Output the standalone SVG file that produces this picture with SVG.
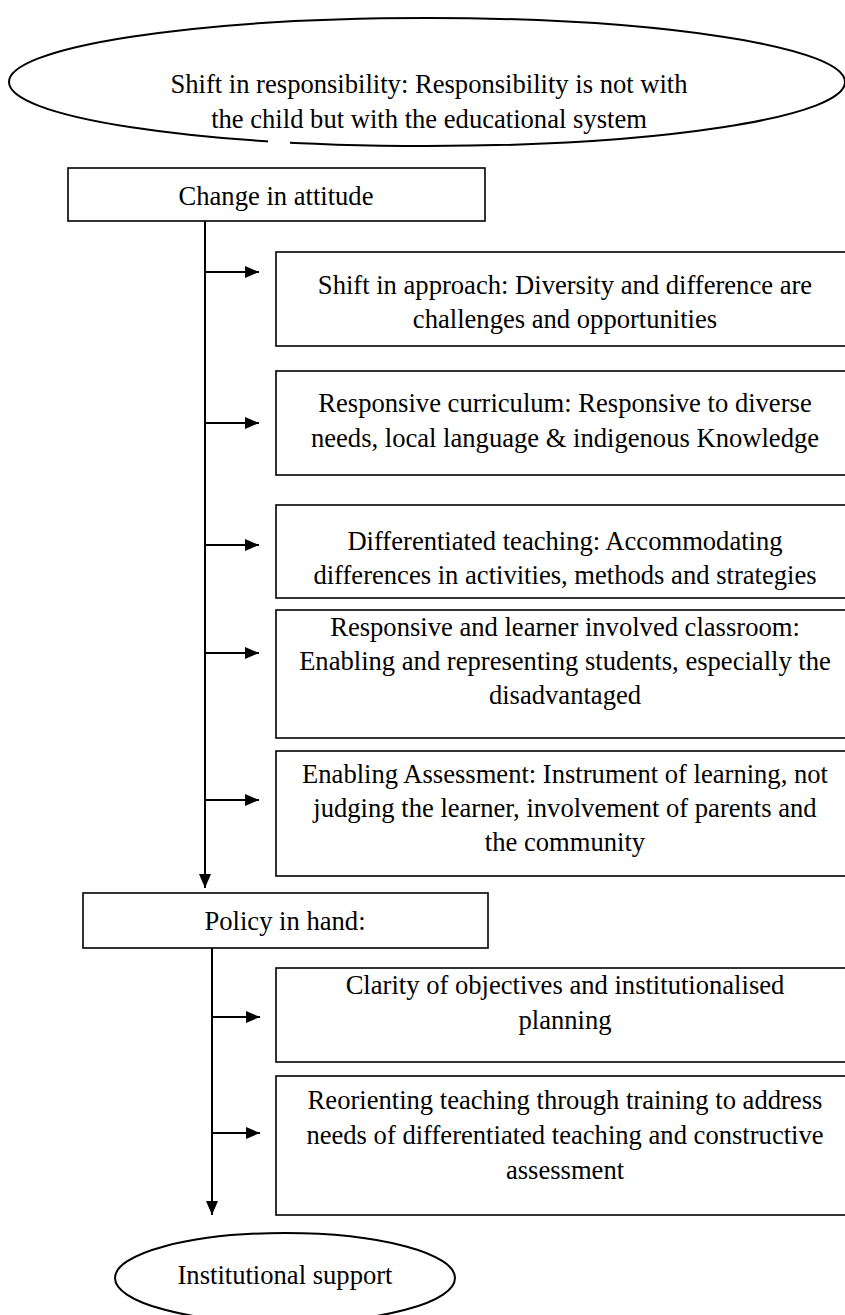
<svg xmlns="http://www.w3.org/2000/svg" width="845" height="1315" viewBox="0 0 845 1315">
  <defs>
    <marker id="arrow" viewBox="0 0 14 12" refX="14" refY="6" markerWidth="14" markerHeight="12" markerUnits="userSpaceOnUse" orient="auto">
      <path d="M0,0 L14,6 L0,12 Z" fill="#000"/>
    </marker>
    <style>
      .box { fill: #fff; stroke: #000; stroke-width: 1.6; }
      .oval { fill: #fff; stroke: #000; stroke-width: 2; }
      .link { fill: none; stroke: #000; stroke-width: 2; }
      .lbl { font-family: "Liberation Serif", "Times New Roman", serif; font-size: 26.6px; fill: #000; text-anchor: middle; }
    </style>
  </defs>
  <rect width="845" height="1315" fill="#fff"/>

  <!-- top oval -->
  <g id="node-shift-responsibility">
    <ellipse class="oval" cx="427" cy="82" rx="418" ry="64"/>
    <rect x="268" y="140" width="22" height="10" fill="#fff"/>
    <text class="lbl" x="429" y="93">Shift in responsibility: Responsibility is not with</text>
    <text class="lbl" x="429" y="128">the child but with the educational system</text>
  </g>

  <g id="node-change-attitude">
    <rect class="box" x="68" y="168" width="417" height="53"/>
    <text class="lbl" x="276" y="205">Change in attitude</text>
  </g>

  <g id="node-shift-approach">
    <rect class="box" x="276" y="252" width="580" height="94"/>
    <text class="lbl" x="565" y="294">Shift in approach: Diversity and difference are</text>
    <text class="lbl" x="565" y="328">challenges and opportunities</text>
  </g>

  <g id="node-responsive-curriculum">
    <rect class="box" x="276" y="371" width="580" height="104"/>
    <text class="lbl" x="565" y="412">Responsive curriculum: Responsive to diverse</text>
    <text class="lbl" x="565" y="447">needs, local language &amp; indigenous Knowledge</text>
  </g>

  <g id="node-differentiated-teaching">
    <rect class="box" x="276" y="505" width="580" height="93"/>
    <text class="lbl" x="565" y="550">Differentiated teaching: Accommodating</text>
    <text class="lbl" x="565" y="584">differences in activities, methods and strategies</text>
  </g>

  <g id="node-classroom">
    <rect class="box" x="276" y="610" width="580" height="128"/>
    <text class="lbl" x="565" y="636">Responsive and learner involved classroom:</text>
    <text class="lbl" x="565" y="670">Enabling and representing students, especially the</text>
    <text class="lbl" x="565" y="704">disadvantaged</text>
  </g>

  <g id="node-enabling-assessment">
    <rect class="box" x="276" y="751" width="580" height="125"/>
    <text class="lbl" x="565" y="783">Enabling Assessment: Instrument of learning, not</text>
    <text class="lbl" x="565" y="817">judging the learner, involvement of parents and</text>
    <text class="lbl" x="565" y="851">the community</text>
  </g>

  <g id="node-policy">
    <rect class="box" x="83" y="893" width="405" height="55"/>
    <text class="lbl" x="285" y="930">Policy in hand:</text>
  </g>

  <g id="node-clarity">
    <rect class="box" x="276" y="968" width="580" height="94"/>
    <text class="lbl" x="565" y="994">Clarity of objectives and institutionalised</text>
    <text class="lbl" x="565" y="1029">planning</text>
  </g>

  <g id="node-reorienting">
    <rect class="box" x="276" y="1076" width="580" height="139"/>
    <text class="lbl" x="565" y="1109">Reorienting teaching through training to address</text>
    <text class="lbl" x="565" y="1144">needs of differentiated teaching and constructive</text>
    <text class="lbl" x="565" y="1179">assessment</text>
  </g>

  <g id="node-institutional-support">
    <ellipse class="oval" cx="285" cy="1278" rx="170" ry="45"/>
    <text class="lbl" x="285" y="1284">Institutional support</text>
  </g>

  <!-- connectors -->
  <g id="connectors">
    <line class="link" x1="205" y1="221" x2="205" y2="888" marker-end="url(#arrow)"/>
    <line class="link" x1="206" y1="272" x2="259" y2="272" marker-end="url(#arrow)"/>
    <line class="link" x1="206" y1="423" x2="259" y2="423" marker-end="url(#arrow)"/>
    <line class="link" x1="206" y1="545" x2="259" y2="545" marker-end="url(#arrow)"/>
    <line class="link" x1="206" y1="653" x2="259" y2="653" marker-end="url(#arrow)"/>
    <line class="link" x1="206" y1="800" x2="259" y2="800" marker-end="url(#arrow)"/>
    <line class="link" x1="212" y1="948" x2="212" y2="1215" marker-end="url(#arrow)"/>
    <line class="link" x1="213" y1="1017" x2="260" y2="1017" marker-end="url(#arrow)"/>
    <line class="link" x1="213" y1="1133" x2="260" y2="1133" marker-end="url(#arrow)"/>
  </g>
</svg>
